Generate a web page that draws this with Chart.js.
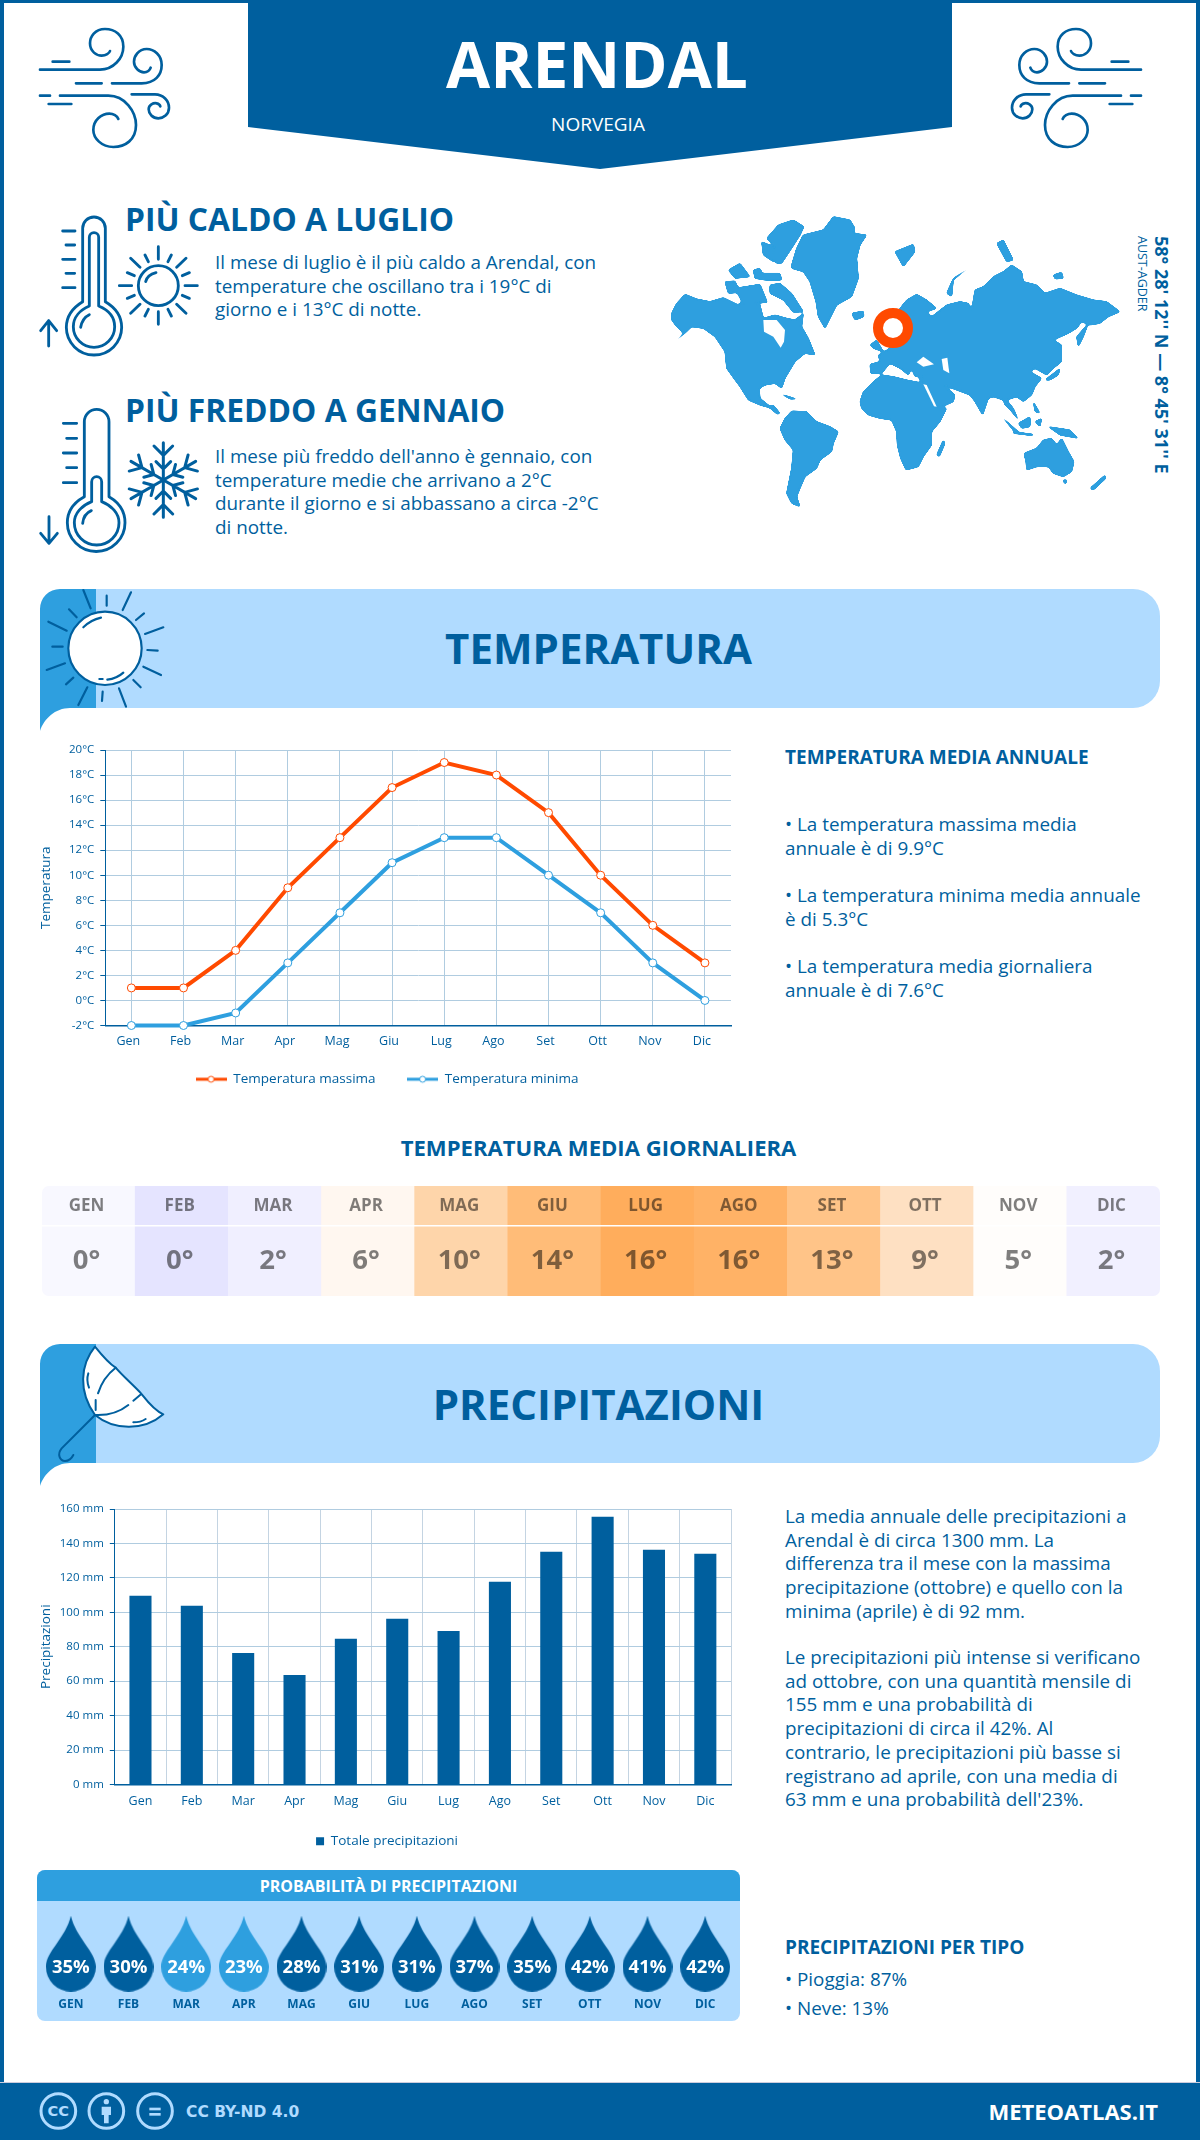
<!DOCTYPE html>
<html lang="it">
<head>
<meta charset="utf-8">
<title>Arendal - Meteo Atlas</title>
<script src="https://cdn.jsdelivr.net/npm/chart.js@4"></script>
<style>
  html, body { margin: 0; padding: 0; background: #fff; }
  #page { position: relative; width: 1200px; height: 2140px; overflow: hidden; background: #fff;
    font-family: "Open Sans", sans-serif; color: #005f9e; }
  #page > * { position: absolute; }
  .edge { background: #005f9e; }
  .txt { font-size: 18.85px; line-height: 23.7px; left: 785px; width: 390px; white-space: nowrap; }
  .head { font-weight: 700; font-size: 19px; line-height: 26px; white-space: nowrap; }
  .big { font-weight: 700; font-size: 31.8px; line-height: 40px; left: 125px; white-space: nowrap; }
  .lead { font-size: 18.85px; line-height: 23.7px; left: 215px; white-space: nowrap; }
  .band-title { font-weight: 700; font-size: 42px; line-height: 50px; left: -1.5px; width: 1200px; text-align: center; }
  .icon path, .icon circle, .icon line { fill: none; stroke: #005f9e; stroke-linecap: round; stroke-linejoin: round; }
  canvas { display: block; }
</style>
</head>
<body>
<div id="page">
  <div class="edge" style="left:0;top:0;width:4px;height:2140px"></div>
  <div class="edge" style="left:1196px;top:0;width:4px;height:2140px"></div>
  <div class="edge" style="left:0;top:0;width:1200px;height:3px"></div>

  <!-- header banner -->
  <svg style="left:248px;top:0" width="704" height="170"><path d="M0 0H704V127L352 169L0 127Z" fill="#005f9e"/></svg>
  <div style="left:-3px;width:1200px;top:20px;text-align:center;color:#fff;font-weight:700;font-size:64px;line-height:88px">ARENDAL</div>
  <div style="left:-2px;width:1200px;top:111px;text-align:center;color:#fff;font-size:19px;line-height:26px">NORVEGIA</div>

  <svg class="icon" style="left:30px;top:15px" width="150" height="140" viewBox="0 0 450 420" stroke-width="8">
    <g id="wind">
      <path d="M30 164H210C250 164 280 130 280 95C280 60 255 42 225 42C195 42 180 65 180 85C180 110 200 122 215 122C228 122 238 115 240 108"/>
      <path d="M68 140H118M138 205H215"/>
      <path d="M246 205H335C375 205 395 180 395 150C395 120 372 102 350 102C325 102 312 125 312 140C312 158 328 172 342 172C352 172 360 165 362 158"/>
      <path d="M30 242H60M56 267H124"/>
      <path d="M90 242H235C285 242 318 290 318 330C318 375 285 396 250 396C215 396 190 370 190 345C190 315 215 296 238 296C250 296 262 303 265 312"/>
      <path d="M305 238H375C400 238 417 258 417 278C417 298 400 310 385 310C368 310 356 296 356 283C356 270 370 263 380 265C385 266 390 270 391 274"/>
    </g>
  </svg>
  <svg class="icon" style="left:1001px;top:15px;transform:scaleX(-1)" width="150" height="140" viewBox="0 0 450 420" stroke-width="8"><use href="#wind"/></svg>

  <!-- hot / cold icons -->
  <svg class="icon" style="left:30px;top:200px" width="190" height="360" viewBox="0 0 570 1080" stroke-width="8.5">
    <path d="M158 305V85A33 33 0 0 1 226 85V305C260 325 275 350 275 382A83 83 0 1 1 109 382C109 350 125 325 158 305Z"/>
    <path d="M178 318V112A14 14 0 0 1 206 112V318C235 330 254 352 254 380A62 62 0 1 1 130 380C130 352 150 330 178 318Z"/>
    <path d="M152 382C155 365 165 350 178 344"/>
    <path d="M98 93H135M108 135H134M98 178H135M108 220H134M98 263H135"/>
    <path d="M56 438V362M32 392L56 362L80 392"/>
    <circle cx="385" cy="257" r="60"/>
    <path d="M347 245C350 232 362 222 378 218"/>
    <path d="M385 140V178M385 335V373M268 257H305M465 257H502M302 175L330 202M468 175L440 202M302 340L330 313M468 340L440 313M345 165L355 185M424 165L414 185M345 348L355 328M424 348L414 328M292 218L313 227M478 218L457 227M292 295L313 286M478 295L457 286"/>
    <path d="M163 890V665A37 37 0 0 1 237 665V890C268 908 285 935 285 968A86 86 0 1 1 112 968C112 935 130 908 163 890Z"/>
    <path d="M185 905V845A15 15 0 0 1 215 845V905C245 917 267 940 267 968A67 67 0 1 1 133 968C133 940 155 917 185 905Z"/>
    <path d="M158 970C160 950 170 938 184 932"/>
    <path d="M100 670H140M110 715H140M100 759H140M110 803H140M100 848H140"/>
    <path d="M57 950V1030M32 1000L57 1030L82 1000"/>
    <g stroke-width="9">
      <g id="arm"><path d="M400 840V728M372 738L400 766L428 738M378 785L400 807L422 785"/></g>
      <use href="#arm" transform="rotate(60 400 840)"/>
      <use href="#arm" transform="rotate(120 400 840)"/>
      <use href="#arm" transform="rotate(180 400 840)"/>
      <use href="#arm" transform="rotate(240 400 840)"/>
      <use href="#arm" transform="rotate(300 400 840)"/>
    </g>
  </svg>

  <div class="big" style="top:199px">PIÙ CALDO A LUGLIO</div>
  <div class="lead" style="top:251px">Il mese di luglio è il più caldo a Arendal, con<br>temperature che oscillano tra i 19°C di<br>giorno e i 13°C di notte.</div>
  <div class="big" style="top:390px">PIÙ FREDDO A GENNAIO</div>
  <div class="lead" style="top:445px">Il mese più freddo dell'anno è gennaio, con<br>temperature medie che arrivano a 2°C<br>durante il giorno e si abbassano a circa -2°C<br>di notte.</div>

  <!-- world map -->
  <svg style="left:660px;top:205px" width="520" height="310" viewBox="0 0 1560 930">
    <defs>
      <!-- rounds the hand traced polygons into softer coasts -->
      <filter id="soft" x="-5%" y="-5%" width="110%" height="110%">
        <feGaussianBlur stdDeviation="3.5"/>
        <feComponentTransfer><feFuncA type="linear" slope="8" intercept="-3"/></feComponentTransfer>
      </filter>
    </defs>
    <g fill="#2e9fdf" stroke="#2e9fdf" stroke-width="3" stroke-linejoin="round" filter="url(#soft)">
      <!-- north america -->
      <path d="M35 325L50 295L75 268L110 282L150 290L190 278L235 300L250 285L300 300L310 340L345 330L380 340L405 345L430 325L425 365L445 400L465 450L435 445L405 470L375 520L365 550L345 535L315 540L298 550L300 580L325 600L350 620L335 610L300 600L265 585L240 545L225 525L200 490L195 440L165 395L130 370L95 365L75 385L45 410L70 385L50 365L35 345Z"/>
      <!-- central america, cuba -->
      <path d="M340 600L360 625L352 628L325 605Z"/>
      <path d="M365 568L410 582L390 582Z"/>
      <!-- greenland -->
      <path d="M395 180L410 130L430 90L490 75L520 35L570 45L585 70L580 85L620 90L600 120L590 160L595 220L575 275L530 300L510 340L495 370L475 335L468 290L450 230L430 200L395 190Z"/>
      <!-- arctic islands -->
      <path d="M320 100L355 60L400 45L432 65L420 90L395 130L365 175L350 175L335 160L345 125Z"/>
      <path d="M330 240L360 235L395 265L430 320L400 322L370 285L330 265Z"/>
      <path d="M205 195L240 175L270 215L225 220Z"/>
      <path d="M195 230L225 228L240 262L205 265Z"/>
      <path d="M225 250L300 238L322 292L250 298Z"/>
      <path d="M280 195L300 190L315 225L285 220Z"/>
      <path d="M305 110L340 125L340 170L310 150Z"/>
      <path d="M305 205L360 205L365 225L315 225Z"/>
      <!-- eurasia -->
      <path d="M632 505L630 478L660 470L655 450L690 430L700 360L720 310L740 285L770 268L800 285L830 310L800 320L815 335L860 300L900 290L925 295L935 315L945 255L970 245L1000 215L1030 200L1055 180L1085 200L1090 230L1130 240L1155 265L1200 250L1250 270L1300 285L1340 290L1380 320L1345 335L1320 355L1290 360L1265 350L1250 370L1225 385L1180 405L1205 420L1205 470L1180 490L1160 510L1125 490L1110 500L1145 520L1125 545L1115 570L1090 590L1070 575L1040 585L1060 610L1075 645L1055 620L1035 600L1030 585L1000 575L985 580L968 630L945 590L930 570L890 555L850 540L885 570L880 590L835 610L820 590L795 540L775 520L800 510L765 515L755 490L745 510L720 490L690 475L665 505Z"/>
      <!-- africa -->
      <path d="M600 590L610 560L640 530L665 510L700 515L740 525L790 535L800 560L825 605L860 610L840 650L815 680L815 720L790 755L775 785L738 795L722 760L712 720L710 680L695 645L660 640L625 630L605 610Z"/>
      <!-- south america -->
      <path d="M360 670L375 640L395 618L440 620L470 650L510 665L535 680L520 715L515 740L480 765L470 790L435 815L420 850L410 875L420 905L395 895L380 865L395 790L400 735L375 705Z"/>
      <path d="M830 750L850 705L855 715L838 755Z"/>
      <!-- australia, new zealand -->
      <path d="M1092 745L1130 730L1150 705L1175 700L1190 720L1205 700L1225 740L1242 770L1235 800L1210 815L1180 805L1165 785L1130 785L1100 795L1098 770Z"/>
      <path d="M1290 850L1335 810L1338 820L1300 855Z"/>
      <path d="M1208 825L1222 825L1216 838Z"/>
      <!-- south east asia, japan -->
      <path d="M1025 635L1075 680L1065 682Z"/>
      <path d="M1075 655L1110 635L1110 665L1085 670Z"/>
      <path d="M1060 680L1120 688L1118 692L1060 685Z"/>
      <path d="M1165 665L1230 675L1255 700L1200 690Z"/>
      <path d="M1125 650L1145 640L1140 665Z"/>
      <path d="M1120 590L1140 625L1125 620Z"/>
      <path d="M1155 525L1200 490L1195 510L1170 525Z"/>
      <path d="M1255 425L1250 395L1285 355L1270 395Z"/>
      <!-- north atlantic and arctic ocean islands -->
      <path d="M630 420L650 405L670 440L640 430Z"/>
      <path d="M575 325L610 318L612 335L585 345Z"/>
      <path d="M705 140L760 118L765 140L730 185Z"/>
      <path d="M860 265L880 220L925 190L880 225L875 275Z"/>
      <path d="M1010 115L1030 105L1060 165L1040 170Z"/>
      <path d="M1180 210L1205 202L1210 220L1185 222Z"/>
    </g>
    <g fill="#fff">
      <!-- hudson bay and inland seas -->
      <path d="M310 345L350 345L375 375L372 410L362 428L340 395L312 380Z"/>
      <path d="M770 472L790 455L822 478L790 485Z"/>
      <path d="M845 462L862 458L868 505L850 495Z"/>
      <path d="M790 538L800 540L830 605L822 604Z"/>
    </g>
    <circle cx="699" cy="369" r="45" fill="#fff" stroke="#ff4a00" stroke-width="30"/>
  </svg>
  <div style="left:1152px;top:236px;writing-mode:vertical-rl;font-weight:700;font-size:18px;line-height:20px;white-space:nowrap">58° 28' 12'' N — 8° 45' 31'' E</div>
  <div style="left:1134px;top:236px;writing-mode:vertical-rl;font-size:12.5px;line-height:16px;white-space:nowrap">AUST-AGDER</div>

  <!-- temperatura band -->
  <svg style="left:0;top:589px" width="1200" height="145">
    <g id="band">
      <path d="M96 0H1133A27 27 0 0 1 1160 27V92A27 27 0 0 1 1133 119H96Z" fill="#b0dbff"/>
      <path d="M60 0H96V119H70C55 119 44 130 40 142V20A20 20 0 0 1 60 0Z" fill="#2e9fdf"/>
    </g>
  </svg>
  <svg class="icon" style="left:30px;top:585px" width="150" height="150" viewBox="0 0 450 450" stroke-width="6.5">
    <circle cx="225" cy="190" r="110" style="fill:#fff"/>
    <path d="M160 15L182 70M230 32V62M303 22L278 75M342 85L318 105M400 127L345 147M352 195L383 197M340 245L393 270M310 285L332 307M267 310L288 365M218 320L216 348M172 307L145 360M130 278L108 298M105 235L50 255M98 185H67M110 137L55 110M140 97L117 73"/>
    <path d="M160 127C175 112 195 102 213 98M232 284C250 282 268 274 280 263M208 282H218"/>
  </svg>
  <div class="band-title" style="top:623px">TEMPERATURA</div>

  <canvas id="tempChart" width="730" height="361" style="left:30px;top:735px"></canvas>

  <div class="head" style="left:785px;top:744px">TEMPERATURA MEDIA ANNUALE</div>
  <div class="txt" style="top:813px">• La temperatura massima media<br>annuale è di 9.9°C</div>
  <div class="txt" style="top:884px">• La temperatura minima media annuale<br>è di 5.3°C</div>
  <div class="txt" style="top:955px">• La temperatura media giornaliera<br>annuale è di 7.6°C</div>

  <div style="left:-1.5px;width:1200px;top:1132px;text-align:center;font-weight:700;font-size:22.1px;line-height:30px">TEMPERATURA MEDIA GIORNALIERA</div>
  <canvas id="heatChart" width="1118" height="110" style="left:42px;top:1186px;border-radius:7px"></canvas>

  <!-- precipitazioni band -->
  <svg style="left:0;top:1344px" width="1200" height="145"><use href="#band"/></svg>
  <svg class="icon" style="left:30px;top:1335px" width="150" height="160" viewBox="0 0 450 480" stroke-width="6">
    <path d="M195 35C150 90 145 170 195 240C250 285 340 290 400 238C370 225 345 190 333 175C310 150 275 120 257 98C235 85 215 60 195 35Z" style="fill:#fff"/>
    <path d="M257 98C235 115 215 140 204 175M197 195V225M195 240C235 242 270 230 295 210M310 197L333 178M175 115C170 130 172 145 177 158M310 262C325 262 338 258 347 252"/>
    <path d="M195 240L95 340C80 358 90 378 105 378C115 378 125 370 130 360"/>
  </svg>
  <div class="band-title" style="top:1379px">PRECIPITAZIONI</div>

  <canvas id="rainChart" width="730" height="364" style="left:30px;top:1494px"></canvas>

  <div class="txt" style="top:1505px">La media annuale delle precipitazioni a<br>Arendal è di circa 1300 mm. La<br>differenza tra il mese con la massima<br>precipitazione (ottobre) e quello con la<br>minima (aprile) è di 92 mm.</div>
  <div class="txt" style="top:1646px">Le precipitazioni più intense si verificano<br>ad ottobre, con una quantità mensile di<br>155 mm e una probabilità di<br>precipitazioni di circa il 42%. Al<br>contrario, le precipitazioni più basse si<br>registrano ad aprile, con una media di<br>63 mm e una probabilità dell'23%.</div>

  <!-- probabilita -->
  <div style="left:37px;top:1870px;width:703px;height:151px;border-radius:8px;background:#b0dbff"></div>
  <div style="left:37px;top:1870px;width:703px;height:31px;border-radius:8px 8px 0 0;background:#2e9fdf;color:#fff;font-weight:700;font-size:16px;line-height:33px;text-align:center">PROBABILITÀ DI PRECIPITAZIONI</div>
  <canvas id="probChart" width="702" height="120" style="left:37px;top:1901px"></canvas>

  <div class="head" style="left:785px;top:1934px">PRECIPITAZIONI PER TIPO</div>
  <div class="txt" style="top:1965px;line-height:29px">• Pioggia: 87%<br>• Neve: 13%</div>

  <!-- footer -->
  <div style="left:0;top:2082px;width:1200px;height:1px;background:#ccd"></div>
  <div style="left:0;top:2083px;width:1200px;height:57px;background:#005f9e"></div>
  <svg style="left:30px;top:2085px" width="150" height="55" viewBox="0 0 450 165">
    <g fill="none" stroke="#b0dbff" stroke-width="9">
      <circle cx="85" cy="78" r="52"/><circle cx="229" cy="78" r="52"/><circle cx="375" cy="78" r="52"/>
    </g>
    <g fill="#b0dbff">
      <text x="85" y="94" font-family="DejaVu Sans" font-weight="700" font-size="44" text-anchor="middle">CC</text>
      <circle cx="229" cy="50" r="8"/>
      <path d="M215 65H243V90H236V115H222V90H215Z"/>
      <rect x="358" y="68" width="34" height="8"/><rect x="358" y="84" width="34" height="8"/>
    </g>
  </svg>
  <div style="left:186px;top:2100px;font-family:'DejaVu Sans';font-weight:700;font-size:15.5px;line-height:24px;color:#b0dbff;white-space:nowrap">CC BY-ND 4.0</div>
  <div style="right:42px;top:2094px;color:#fff;font-weight:700;font-size:22px;line-height:34px;white-space:nowrap">METEOATLAS.IT</div>
</div>

<script>
// values
const months = ["Gen", "Feb", "Mar", "Apr", "Mag", "Giu", "Lug", "Ago", "Set", "Ott", "Nov", "Dic"];
const monthsUpper = ["GEN", "FEB", "MAR", "APR", "MAG", "GIU", "LUG", "AGO", "SET", "OTT", "NOV", "DIC"];
const maxTemps = [1, 1, 4, 9, 13, 17, 19, 18, 15, 10, 6, 3];
const minTemps = [-2, -2, -1, 3, 7, 11, 13, 13, 10, 7, 3, 0];
const avgTemps = [0, 0, 2, 6, 10, 14, 16, 16, 13, 9, 5, 2];
const rainMm = [109.6, 103.8, 76.4, 63.6, 84.6, 96.2, 89.2, 117.7, 135.2, 155.5, 136.3, 134];
const rainProb = [35, 30, 24, 23, 28, 31, 31, 37, 35, 42, 41, 42];

const heatColors = ["#f8f8ff", "#e5e4ff", "#f0efff", "#fff7f0", "#fed5aa", "#ffbc78", "#ffad5c", "#ffb266", "#ffc488", "#fee0c2", "#fffdfb", "#f1f0ff"];

const darkBlue = "#005f9e";
const midBlue = "#2e9fdf";
const orange = "#ff4a00";
const gridColor = "#b0cce0";
const font = "'Open Sans', sans-serif";

Chart.defaults.animation = false;
Chart.defaults.responsive = false;
Chart.defaults.font.family = font;
Chart.defaults.color = darkBlue;
Chart.defaults.plugins.tooltip.enabled = false;

// legend marker: a short thick line with a small open circle on it
function lineMarker(color) {
  const c = document.createElement("canvas");
  c.width = 31; c.height = 10;
  const ctx = c.getContext("2d");
  ctx.fillStyle = color;
  ctx.fillRect(0, 3.5, 31, 3);
  ctx.beginPath();
  ctx.arc(15.5, 5, 3, 0, Math.PI * 2);
  ctx.fillStyle = "#fff";
  ctx.fill();
  ctx.strokeStyle = color;
  ctx.lineWidth = 1;
  ctx.stroke();
  return c;
}

// shared axis options for both charts
function yAxis(width, title, titlePad, opts) {
  return Object.assign({
    afterFit: s => { s.width = width; },
    title: { display: true, text: title, font: { size: 13.5 }, padding: { top: titlePad, bottom: 0 } },
    border: { color: darkBlue, width: 1 },
    grid: { color: gridColor, tickColor: darkBlue, tickLength: 5 },
    ticks: { font: { size: 11.5 }, padding: 6 }
  }, opts);
}

function xAxis(height, opts) {
  return Object.assign({
    afterFit: s => { s.height = height; },
    border: { color: darkBlue, width: 1.5 },
    grid: { color: gridColor, drawTicks: false }
  }, opts);
}

new Chart(document.getElementById("tempChart"), {
  type: "line",
  data: {
    labels: months,
    datasets: [
      { label: "Temperatura massima\u00A0\u00A0\u00A0\u00A0\u00A0", data: maxTemps, borderColor: orange, backgroundColor: orange, marker: lineMarker(orange) },
      { label: "Temperatura minima", data: minTemps, borderColor: midBlue, backgroundColor: midBlue, marker: lineMarker(midBlue) }
    ].map(d => Object.assign(d, {
      borderWidth: 4, tension: 0, clip: false,
      pointRadius: 4, pointBorderWidth: 1, pointBackgroundColor: "#fff", pointBorderColor: d.borderColor
    }))
  },
  options: {
    // left padding also moves the centred legend to where the reference has it
    layout: { padding: { top: 15, right: 29, left: 13, bottom: 0 } },
    scales: {
      x: xAxis(33, {
        offset: true,
        grid: { color: gridColor, drawTicks: false, offset: false },
        ticks: { font: { size: 12.5 }, padding: 8, labelOffset: -3, maxRotation: 0, autoSkip: false }
      }),
      y: yAxis(62.3, "Temperatura", -5, {
        min: -2, max: 20,
        ticks: { font: { size: 11.5 }, padding: 6, stepSize: 2, callback: v => v + "°C" }
      })
    },
    plugins: {
      legend: {
        position: "bottom",
        labels: {
          usePointStyle: true, pointStyleWidth: 31, padding: 14, font: { size: 13.5 }, color: darkBlue,
          generateLabels: chart => chart.data.datasets.map((d, i) => ({
            text: d.label, pointStyle: d.marker, datasetIndex: i, fontColor: darkBlue, lineWidth: 0
          }))
        }
      }
    }
  }
});

new Chart(document.getElementById("rainChart"), {
  type: "bar",
  data: {
    labels: months,
    datasets: [{ label: "Totale precipitazioni", data: rainMm, backgroundColor: darkBlue, barPercentage: 0.43, categoryPercentage: 1 }]
  },
  options: {
    layout: { padding: { top: 15, right: 29, left: 13, bottom: 0 } },
    scales: {
      x: xAxis(36, {
        grid: { color: "#c4d4e2", drawTicks: false, offset: true },
        ticks: { font: { size: 12.5 }, padding: 9, maxRotation: 0, autoSkip: false }
      }),
      y: yAxis(71.8, "Precipitazioni", -5, {
        min: 0, max: 160,
        ticks: { font: { size: 11.5 }, padding: 6, stepSize: 20, callback: v => v + " mm" }
      })
    },
    plugins: {
      legend: {
        position: "bottom",
        labels: { boxWidth: 8, boxHeight: 8, padding: 14, font: { size: 13.5 }, color: darkBlue }
      }
    }
  }
});

// daily mean strip: full width bars, values written on each cell
const heatLabels = {
  id: "heatLabels",
  afterDatasetsDraw(chart) {
    const { ctx, scales: { x, y } } = chart;
    ctx.save();
    ctx.fillStyle = "#fff";
    ctx.fillRect(0, y.getPixelForValue(71), chart.width, 1.5);
    ctx.textAlign = "center";
    ctx.textBaseline = "middle";
    ctx.fillStyle = "rgba(0,0,0,0.5)";
    monthsUpper.forEach((m, i) => {
      ctx.font = "700 17px " + font;
      ctx.fillText(m, x.getPixelForValue(i) - 2, y.getPixelForValue(90));
      ctx.font = "700 27.5px " + font;
      ctx.fillText(avgTemps[i] + "°", x.getPixelForValue(i) - 2, y.getPixelForValue(35));
    });
    ctx.restore();
  }
};

new Chart(document.getElementById("heatChart"), {
  type: "bar",
  data: {
    labels: monthsUpper,
    datasets: [{ data: avgTemps.map(() => [0, 110]), backgroundColor: heatColors, barPercentage: 1, categoryPercentage: 1 }]
  },
  options: {
    layout: { padding: 0 },
    scales: { x: { display: false }, y: { display: false, min: 0, max: 110 } },
    plugins: { legend: { display: false } }
  },
  plugins: [heatLabels]
});

// probability drops: one point per month with a drop shaped marker
function dropMarker(color) {
  const c = document.createElement("canvas");
  c.width = 50; c.height = 76;
  const ctx = c.getContext("2d");
  ctx.beginPath();
  ctx.moveTo(25, 0);
  ctx.bezierCurveTo(30, 22, 50, 36, 50, 51);
  ctx.arc(25, 51, 25, 0, Math.PI);
  ctx.bezierCurveTo(0, 36, 20, 22, 25, 0);
  ctx.fillStyle = color;
  ctx.fill();
  return c;
}

const dropDark = dropMarker(darkBlue);
const dropLight = dropMarker(midBlue);

const dropLabels = {
  id: "dropLabels",
  afterDatasetsDraw(chart) {
    const { ctx, scales: { x, y } } = chart;
    const py = y.getPixelForValue(1);
    ctx.save();
    ctx.textAlign = "center";
    ctx.textBaseline = "middle";
    monthsUpper.forEach((m, i) => {
      ctx.fillStyle = "#fff";
      ctx.font = "700 18.5px " + font;
      ctx.fillText(rainProb[i] + "%", x.getPixelForValue(i), py + 14);
      ctx.fillStyle = darkBlue;
      ctx.font = "700 12px " + font;
      ctx.fillText(m, x.getPixelForValue(i), py + 51);
    });
    ctx.restore();
  }
};

new Chart(document.getElementById("probChart"), {
  type: "line",
  data: {
    labels: monthsUpper,
    datasets: [{
      data: rainProb.map(() => 1),
      showLine: false,
      clip: false,
      pointStyle: rainProb.map(p => p < 25 ? dropLight : dropDark)
    }]
  },
  options: {
    layout: { padding: 0 },
    scales: {
      x: { display: false, offset: true },
      y: { display: false, min: 0, max: 1.765 }
    },
    plugins: { legend: { display: false } }
  },
  plugins: [dropLabels]
});
</script>
</body>
</html>
